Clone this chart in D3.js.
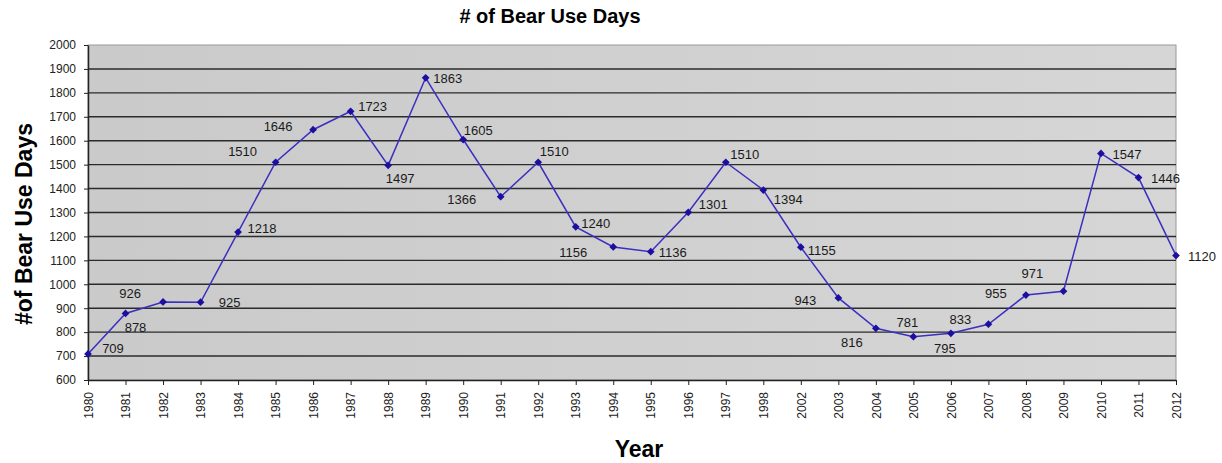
<!DOCTYPE html>
<html>
<head>
<meta charset="utf-8">
<script src="https://cdn.jsdelivr.net/npm/d3@7"></script>
<style>
	body { margin: 0; background: #fff; }
	svg { display: block; font-family: "Liberation Sans", Arial, sans-serif; }
	.axis path, .axis line { stroke: #222; }
	.axis text { fill: #222; font-size: 12px; }
</style>
</head>
<body>
<svg id="chart" width="1222" height="463"></svg>
<script>
// years on the x axis (1999-2001 missing in the source)
const years = ["1980", "1981", "1982", "1983", "1984", "1985", "1986", "1987", "1988", "1989",
	"1990", "1991", "1992", "1993", "1994", "1995", "1996", "1997", "1998", "2002",
	"2003", "2004", "2005", "2006", "2007", "2008", "2009", "2010", "2011", "2012"];

const bearUseDays = [709, 878, 926, 925, 1218, 1510, 1646, 1723, 1497, 1863,
	1605, 1366, 1510, 1240, 1156, 1136, 1301, 1510, 1394, 1155,
	943, 816, 781, 795, 833, 955, 971, 1547, 1446, 1120];

const yTicks = [600, 700, 800, 900, 1000, 1100, 1200, 1300, 1400, 1500,
	1600, 1700, 1800, 1900, 2000];

// where each value label sits relative to its point [dx, dy]
const labelOffsets = [[25, -5], [10, 14], [-33, -9], [29, 0], [24, -4], [-33, -11], [-35, -3], [22, -5], [12, 13], [22, 1],
	[15, -9], [-39, 3], [16, -11], [20, -3], [-40, 5], [22, 1], [25, -8], [19, -8], [25, 9], [21, 3],
	[-33, 3], [-24, 14], [-6, -14], [-6, 15], [-28, -5], [-30, -2], [-31, -18], [26, 1], [27, 1], [26, 1]];

const data = years.map((y, i) => ({ year: y, value: bearUseDays[i], off: labelOffsets[i] }));

const margin = { top: 45, right: 46, bottom: 83, left: 88 };
const svg = d3.select("#chart");
const width = 1222 - margin.left - margin.right;
const height = 463 - margin.top - margin.bottom;

const defs = svg.append("defs");
const grad = defs.append("linearGradient").attr("id", "bg").attr("x1", 0).attr("x2", 1).attr("y1", 0).attr("y2", 0);
grad.append("stop").attr("offset", "0%").attr("stop-color", "#cacaca");
grad.append("stop").attr("offset", "100%").attr("stop-color", "#d6d6d6");

const g = svg.append("g").attr("transform", `translate(${margin.left},${margin.top})`);

const xScale = d3.scalePoint().domain(years).range([0, width]);
const yScale = d3.scaleLinear().domain([600, 2000]).range([height, 0]);

// plot background
g.append("rect")
	.attr("width", width)
	.attr("height", height)
	.attr("fill", "url(#bg)")
	.attr("stroke", "#999")
	.attr("stroke-width", 1);

// gridlines
g.selectAll(".grid")
	.data(yTicks.filter(d => d > 600 && d < 2000))
	.join("line")
	.attr("class", "grid")
	.attr("x1", 0)
	.attr("x2", width)
	.attr("y1", d => yScale(d))
	.attr("y2", d => yScale(d))
	.attr("stroke", "#2b2b2b")
	.attr("stroke-width", 1.4);

// axes
const yAxisG = g.append("g")
	.attr("class", "axis y-axis")
	.call(d3.axisLeft(yScale).tickValues(yTicks).tickFormat(d3.format("d"))
		.tickSize(4).tickPadding(8).tickSizeOuter(0));

const xAxisG = g.append("g")
	.attr("class", "axis x-axis")
	.attr("transform", `translate(0,${height})`)
	.call(d3.axisBottom(xScale).tickSize(5).tickSizeOuter(0));

yAxisG.select(".domain").attr("stroke-width", 1.5);
xAxisG.select(".domain").attr("stroke-width", 1.5);

xAxisG.selectAll("text")
	.style("text-anchor", "end")
	.attr("x", -12)
	.attr("y", 0)
	.attr("dy", "0.35em")
	.attr("transform", "rotate(-90)");

// line + markers
const line = d3.line()
	.x(d => xScale(d.year))
	.y(d => yScale(d.value));

g.append("path")
	.datum(data)
	.attr("fill", "none")
	.attr("stroke", "#3b2fc0")
	.attr("stroke-width", 1.5)
	.attr("d", line);

g.selectAll(".marker")
	.data(data)
	.join("path")
	.attr("class", "marker")
	.attr("d", d3.symbol().type(d3.symbolSquare).size(30))
	.attr("transform", d => `translate(${xScale(d.year)},${yScale(d.value)}) rotate(45)`)
	.attr("fill", "#1c0fa0");

// value labels
g.selectAll(".val")
	.data(data)
	.join("text")
	.attr("class", "val")
	.attr("x", d => xScale(d.year) + d.off[0])
	.attr("y", d => yScale(d.value) + d.off[1])
	.attr("dy", "0.35em")
	.attr("text-anchor", "middle")
	.attr("font-size", 13)
	.attr("fill", "#1a1a1a")
	.text(d => d.value);

// titles
svg.append("text")
	.attr("x", 550)
	.attr("y", 23)
	.attr("text-anchor", "middle")
	.attr("font-size", 20)
	.attr("font-weight", "bold")
	.text("# of Bear Use Days");

svg.append("text")
	.attr("transform", "translate(32,224) rotate(-90)")
	.attr("text-anchor", "middle")
	.attr("font-size", 23)
	.attr("font-weight", "bold")
	.text("#of Bear Use Days");

svg.append("text")
	.attr("x", 639)
	.attr("y", 457)
	.attr("text-anchor", "middle")
	.attr("font-size", 23)
	.attr("font-weight", "bold")
	.text("Year");
</script>
</body>
</html>
